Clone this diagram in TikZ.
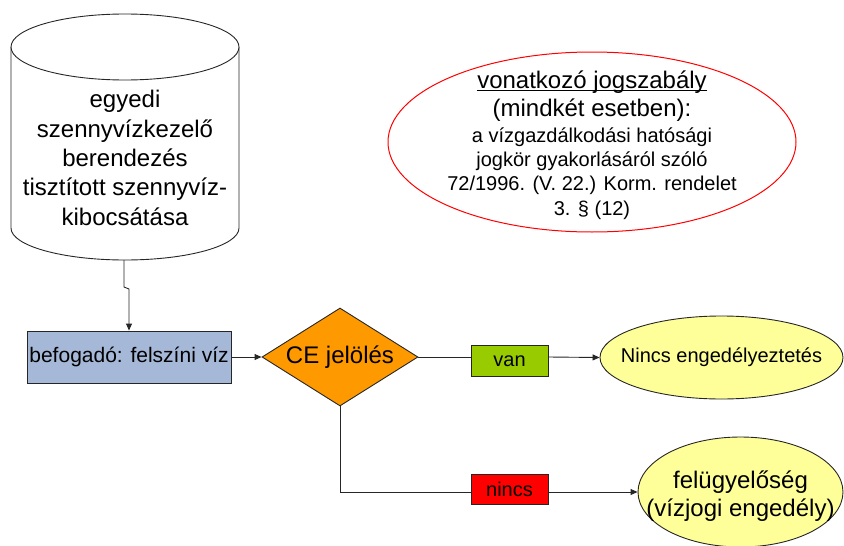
\documentclass[tikz,border=0pt]{standalone}
\usepackage{fontspec}
\setmainfont{Liberation Sans}
\usetikzlibrary{shapes.geometric,arrows.meta}
\definecolor{boxblue}{RGB}{165,184,216}
\definecolor{ceorange}{RGB}{255,153,0}
\definecolor{vangreen}{RGB}{153,204,0}
\definecolor{nincsred}{RGB}{255,0,0}
\definecolor{lightyellow}{RGB}{255,255,153}
\newsavebox\myulbox
\newcommand\myuline[1]{\sbox\myulbox{#1}\rlap{\rule[-3pt]{\wd\myulbox}{1.3pt}}\usebox\myulbox}
\begin{document}
\begin{tikzpicture}[x=1pt,y=-1pt,
  line/.style={draw=black!85, line width=0.9pt},
  arr/.style={line, -{Triangle[length=7pt,width=6pt]}},
  rectbox/.style={line, inner sep=0pt, minimum width=77pt},
  yellowell/.style={line, ellipse, fill=lightyellow, inner sep=0pt},
  fs24/.style={font=\fontsize{24}{28}\selectfont},
  fs20/.style={font=\fontsize{20}{24}\selectfont}]
\useasboundingbox (0,0) rectangle (844,546);

% cylinder
\draw[line, fill=white] (11,47) -- (11,228) arc[start angle=180, end angle=0, x radius=114, y radius=32] -- (239,47);
\draw[line, fill=white] (125,47) ellipse [x radius=114, y radius=33];
\node[font=\fontsize{24}{29.3}\selectfont, align=center] (cyl) at (125,158) {egyedi\\szennyvízkezelő\\berendezés\\tisztított szennyvíz-\\kibocsátása};
\coordinate (cylb) at (124,260);

% receiver box
\node[line, fill=boxblue, minimum width=204pt, minimum height=52pt, inner sep=0pt, font=\fontsize{21}{25}\selectfont] (recv) at (129,357) {befogadó: felszíni víz};

% decision
\node[line, diamond, fill=ceorange, minimum width=156pt, minimum height=98pt, aspect=1.6, inner sep=0pt, fs24] (ce) at (340,357) {CE jelölés};

% labels
\node[rectbox, fill=vangreen, minimum height=31pt, fs20] (van) at (509.5,361) {van};
\node[rectbox, fill=nincsred, minimum height=30pt, fs20] (nincs) at (509.5,489) {nincs};

% outcome ellipses
\node[yellowell, minimum width=243pt, minimum height=83pt] (noperm) at (721.5,357.5) {};
\node[fs20] (nopermt) at (noperm) {Nincs engedélyeztetés};
\node[yellowell, minimum width=205pt, minimum height=110pt] (fel) at (740.5,492) {};
\node[fs24, align=center] (felt) at (740.5,496) {felügyelőség\\(vízjogi engedély)};

% legal note
\node[ellipse, draw=red, line width=1pt, minimum width=408pt, minimum height=180pt, inner sep=0pt] (law) at (592,142) {};
\node[fs24, align=center] (lawa) at (592,96) {\myuline{vonatkozó jogszabály}\\(mindkét esetben):};
\node[font=\fontsize{20}{24.3}\selectfont, align=center] (lawb) at (592,173.5) {a vízgazdálkodási hatósági\\jogkör gyakorlásáról szóló\\72/1996. (V. 22.) Korm. rendelet\\3. § (12)};

% connectors
\draw[arr] (cylb) -- ++(0,27) -- ++(5,2) -- (recv.north);
\draw[arr] (recv.east) -- (ce.west);
\draw[line] (ce.east) -- (ce.east -| van.west);
\draw[arr] (van.east |- ce.east) -- (noperm.west);
\draw[line] (ce.south) |- (nincs.west |- fel.west);
\draw[arr] (nincs.east |- fel.west) -- (fel.west);
\end{tikzpicture}
\end{document}
